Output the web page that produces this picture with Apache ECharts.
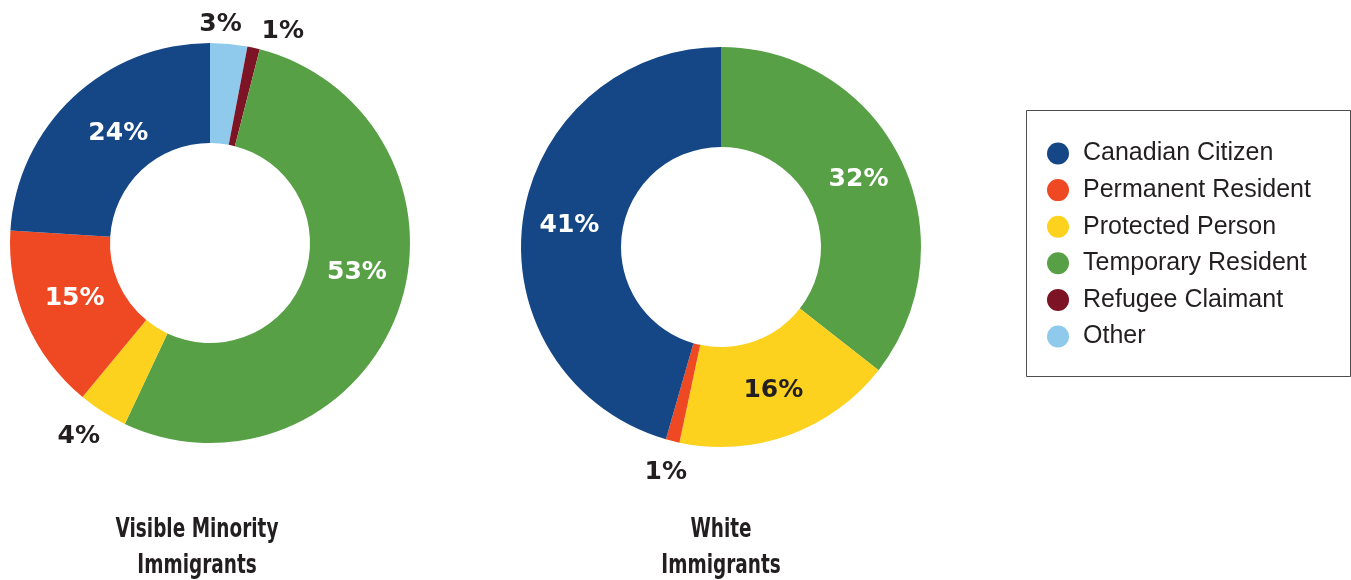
<!DOCTYPE html>
<html>
<head>
<meta charset="utf-8">
<script src="https://cdn.jsdelivr.net/npm/echarts@6/dist/echarts.min.js"></script>
<style>
  html, body { margin: 0; padding: 0; background: #ffffff; }
  #chart { width: 1351px; height: 580px; }
</style>
</head>
<body>
<div id="chart"></div>
<script>
// Legend categories
const categories = ['Canadian Citizen', 'Permanent Resident', 'Protected Person', 'Temporary Resident', 'Refugee Claimant', 'Other'];

// Visible minority immigrants, slices clockwise from 12 o'clock (percent)
const minorityNames = ['Other', 'Refugee Claimant', 'Temporary Resident', 'Protected Person', 'Permanent Resident', 'Canadian Citizen'];
const minorityValues = [3, 1, 53, 4, 15, 24];

// White immigrants, slices clockwise from 12 o'clock (percent)
const whiteNames = ['Temporary Resident', 'Protected Person', 'Permanent Resident', 'Canadian Citizen'];
const whiteValues = [32, 16, 1, 41];

const groupTitles = ['Visible Minority\nImmigrants', 'White\nImmigrants'];

// ---- styling ----
const sliceColors = {
  'Canadian Citizen': '#154786',
  'Permanent Resident': '#EF4923',
  'Protected Person': '#FDD21F',
  'Temporary Resident': '#57A045',
  'Refugee Claimant': '#7D1426',
  'Other': '#8FC9EC'
};
const darkText = '#231F20';
const SMALL = 5; // slices below this get their label outside the ring

// label nudges per chart / slice
const labelNudge = [
  { 'Other': [-11, 8], 'Refugee Claimant': [23, 11], 'Protected Person': [-9, 1],
    'Temporary Resident': [3, -22], 'Canadian Citizen': [13, 2], 'Permanent Resident': [5, -5] },
  { 'Permanent Resident': [0, 4] }
];

const labelFont = { fontFamily: 'DejaVu Sans', fontWeight: 'bold', fontSize: 25 };

function ringSeries(idx, names, values, center) {
  const main = {
    type: 'pie',
    name: groupTitles[idx],
    center: center,
    radius: [100, 200],
    startAngle: 90,
    clockwise: true,
    avoidLabelOverlap: false,
    silent: true,
    labelLine: { show: false },
    data: names.map((n, i) => ({
      name: n,
      value: values[i],
      itemStyle: { color: sliceColors[n] },
      label: Object.assign({
        show: values[i] >= SMALL,
        position: 'inside',
        formatter: '{c}%',
        color: n === 'Protected Person' ? darkText : '#ffffff',
        offset: labelNudge[idx][n] || [0, 0]
      }, labelFont)
    }))
  };
  // transparent outer ring that carries the labels of the thin slices
  const outer = {
    type: 'pie',
    name: groupTitles[idx] + ' outer',
    center: center,
    radius: [200, 250],
    startAngle: 90,
    clockwise: true,
    avoidLabelOverlap: false,
    silent: true,
    labelLine: { show: false },
    data: names.map((n, i) => ({
      name: n,
      value: values[i],
      itemStyle: { color: 'rgba(0,0,0,0)' },
      label: Object.assign({
        show: values[i] < SMALL,
        position: 'inside',
        formatter: '{c}%',
        color: darkText,
        offset: labelNudge[idx][n] || [0, 0]
      }, labelFont)
    }))
  };
  return [main, outer];
}

const chart = echarts.init(document.getElementById('chart'), null, { renderer: 'canvas' });

const left = ringSeries(0, minorityNames, minorityValues, [210, 243]);
const right = ringSeries(1, whiteNames, whiteValues, [721, 247]);

// condensed bold caption under each ring
function caption(text, cx) {
  return {
    type: 'text',
    x: cx,
    y: 512,
    scaleX: 0.71,
    silent: true,
    style: {
      text: text,
      align: 'center',
      verticalAlign: 'top',
      font: 'bold 26px "DejaVu Sans", sans-serif',
      lineHeight: 36,
      fill: darkText
    }
  };
}

chart.setOption({
  animation: false,
  backgroundColor: '#ffffff',
  legend: {
    data: categories,
    orient: 'vertical',
    left: 1042,
    top: 136,
    icon: 'circle',
    itemWidth: 40,
    itemHeight: 22,
    itemGap: 11.6,
    selectedMode: false,
    textStyle: {
      fontFamily: '"Liberation Sans", Arial, sans-serif',
      fontSize: 25,
      lineHeight: 25,
      color: darkText
    }
  },
  graphic: [
    {
      type: 'rect',
      shape: { x: 1026.5, y: 110.5, width: 324, height: 266 },
      style: { fill: 'none', stroke: '#4d4d4d', lineWidth: 1 },
      silent: true
    },
    caption(groupTitles[0], 197),
    caption(groupTitles[1], 721)
  ],
  series: [left[0], right[0], left[1], right[1]]
});
</script>
</body>
</html>
